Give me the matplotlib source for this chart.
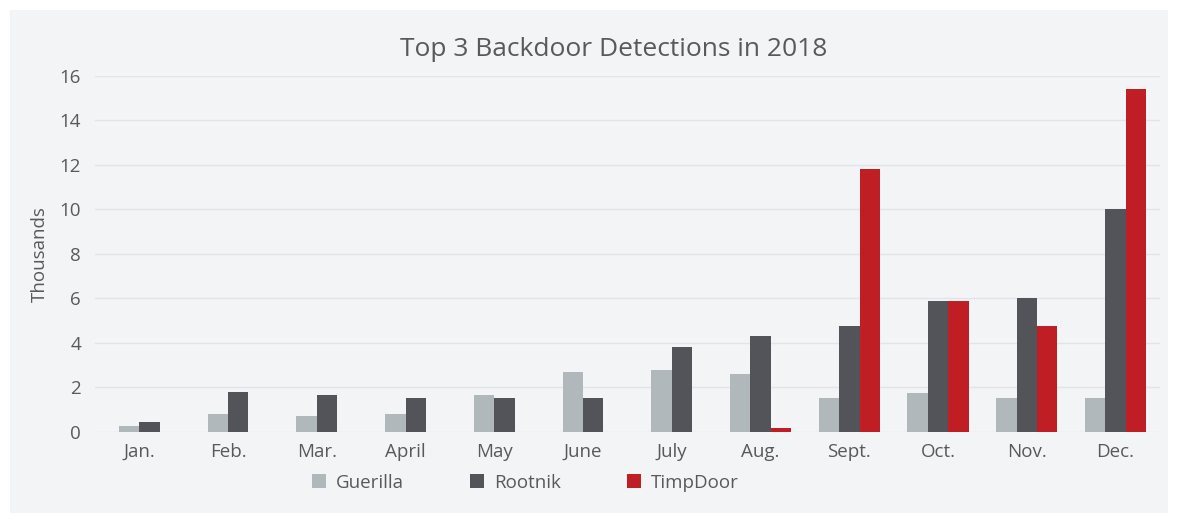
import numpy as np
import matplotlib.pyplot as plt
from matplotlib.patches import Rectangle

plt.rcParams['font.family'] = ['Open Sans', 'DejaVu Sans']

months = ['Jan.', 'Feb.', 'Mar.', 'April', 'May', 'June', 'July',
          'Aug.', 'Sept.', 'Oct.', 'Nov.', 'Dec.']
guerilla = [0.25, 0.8, 0.7, 0.8, 1.65, 2.7, 2.8, 2.6, 1.55, 1.75, 1.55, 1.55]
rootnik = [0.45, 1.8, 1.65, 1.55, 1.55, 1.55, 3.8, 4.3, 4.75, 5.9, 6.0, 10.0]
timpdoor = [None, None, None, None, None, None, None, 0.2, 11.8, 5.9, 4.75, 15.4]

series = [('Guerilla', guerilla, '#b1b8bc'),
          ('Rootnik', rootnik, '#525459'),
          ('TimpDoor', timpdoor, '#c01e25')]

txt = '#595959'
fig = plt.figure(figsize=(11.78, 5.23), dpi=100)
fig.patch.set_facecolor('white')
fig.patches.append(Rectangle((10 / 1178, 10 / 523), 1158 / 1178, 503 / 523,
                             transform=fig.transFigure, facecolor='#f3f4f6',
                             edgecolor='none', zorder=-10))

ax = fig.add_axes([0.0806, 0.174, 0.9041, 0.6807])
ax.set_facecolor('none')

w = 0.23
x = np.arange(len(months))
for i in range(len(months)):
    # bars present in this month, centred as a group
    present = [k for k, (_, vals, _) in enumerate(series) if vals[i] is not None]
    n = len(present)
    for j, k in enumerate(present):
        name, vals, col = series[k]
        off = (j - (n - 1) / 2) * w
        ax.bar(x[i] + off, vals[i], width=w, color=col, zorder=3,
               label=name if i == len(months) - 1 else None)

ax.set_xlim(-0.5, len(months) - 0.5)
ax.set_ylim(0, 16)
ax.set_yticks(range(0, 17, 2))
ax.set_xticks(x)
ax.set_xticklabels(months)
ax.tick_params(length=0, colors=txt, labelsize=13.5)
ax.tick_params(axis='y', pad=10)
ax.tick_params(axis='x', pad=8)
ax.grid(axis='y', color='#e3e4e7', linewidth=1, zorder=0)
for s in ax.spines.values():
    s.set_visible(False)

ax.set_ylabel('Thousands', color=txt, fontsize=13.5, labelpad=8)
fig.text(0.521, 0.905, 'Top 3 Backdoor Detections in 2018', ha='center',
         va='center', color=txt, fontsize=19)

handles, labels = ax.get_legend_handles_labels()
leg = fig.legend(handles, labels, loc='center', bbox_to_anchor=(0.446, 0.077),
                 ncol=3, frameon=False, fontsize=13.5, handlelength=0.75,
                 handleheight=0.75, columnspacing=3.5, handletextpad=0.55)
for t in leg.get_texts():
    t.set_color(txt)

fig.savefig('out.png', dpi=100, facecolor=fig.get_facecolor())
